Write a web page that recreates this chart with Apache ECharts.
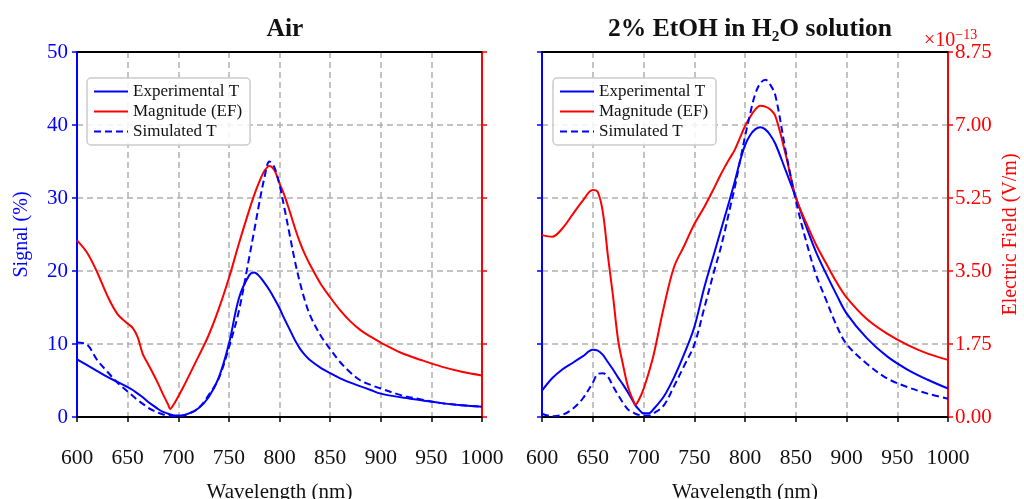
<!DOCTYPE html>
<html>
<head>
<meta charset="utf-8">
<script src="https://cdn.jsdelivr.net/npm/echarts@6/dist/echarts.min.js"></script>
<style>
html,body{margin:0;padding:0;background:#fff;}
#chart{width:1024px;height:499px;}
</style>
</head>
<body>
<div id="chart"></div>
<script>
// Wavelength grid (nm)
const wl = [600,610,620,630,640,650,655,660,665,670,675,680,685,690,692,695,700,705,710,720,730,740,750,760,770,775,780,785,790,795,800,805,810,815,820,825,830,840,850,860,870,880,890,900,920,940,960,980,1000];

// Air panel (Signal %)
const airExperimental = [7.9,7.1,6.3,5.5,4.8,4.1,3.7,3.2,2.7,2.1,1.6,1.1,0.7,0.45,0.35,0.25,0.2,0.25,0.45,1.2,2.7,5.4,10.0,16.3,19.4,19.8,19.3,18.4,17.4,16.2,14.9,13.4,12.0,10.6,9.4,8.5,7.8,6.8,6.0,5.3,4.7,4.2,3.7,3.2,2.7,2.3,1.9,1.6,1.4];
const airSimulated = [10.2,9.9,7.8,6.2,4.7,3.5,2.9,2.3,1.8,1.3,0.9,0.6,0.35,0.2,0.15,0.1,0.1,0.2,0.4,1.2,3.0,5.3,9.5,14.6,21.8,25.5,29.3,32.7,35.0,34.2,31.8,28.5,25.0,21.5,18.5,16.0,14.0,11.3,9.3,7.5,6.1,5.0,4.4,3.9,3.0,2.4,1.9,1.6,1.4];
const airField = [24.2,22.5,19.8,16.6,14.1,12.8,12.2,10.9,8.6,7.3,6.0,4.6,3.1,1.7,1.1,1.6,2.8,4.1,5.5,8.3,11.2,14.8,19.0,23.8,28.3,30.4,32.2,33.7,34.4,33.8,32.0,30.3,28.2,26.0,24.0,22.3,20.9,18.4,16.4,14.6,13.1,11.9,11.0,10.2,8.8,7.8,6.9,6.2,5.7];

// 2% EtOH panel (Signal %, Electric field x1e-13 V/m)
const etohExperimental = [3.6,5.3,6.5,7.4,8.3,9.2,9.1,8.5,7.5,6.5,5.4,4.4,3.3,2.1,1.6,1.1,0.5,0.5,1.1,2.8,5.4,8.6,12.3,17.8,22.6,25.0,27.4,29.8,32.3,35.0,37.2,38.6,39.4,39.7,39.4,38.6,37.4,33.8,30.1,26.2,22.6,19.6,16.8,14.2,10.8,8.3,6.5,5.1,3.9];
const etohSimulated = [0.45,0.1,0.3,1.1,2.5,4.7,5.9,6.0,5.5,4.2,3.0,1.9,1.0,0.6,0.45,0.3,0.2,0.2,0.5,1.6,4.2,7.0,9.9,15.0,20.2,22.6,25.4,28.5,31.5,35.0,38.4,41.5,44.2,45.7,46.2,45.5,44.0,36.5,29.7,24.2,19.5,16.0,12.6,10.0,7.3,5.3,4.1,3.2,2.5];
const etohField = [4.36,4.32,4.52,4.85,5.18,5.44,5.39,4.90,3.85,2.89,1.84,1.23,0.70,0.39,0.30,0.39,0.67,1.05,1.49,2.63,3.59,4.10,4.62,5.04,5.51,5.76,5.99,6.20,6.41,6.69,6.97,7.19,7.37,7.46,7.44,7.37,7.21,6.30,5.27,4.67,4.13,3.68,3.24,2.87,2.35,2.00,1.73,1.52,1.37];

const xTicks = [600,650,700,750,800,850,900,950,1000];
const panelTitles = ['Air', '2% EtOH in H\u2082O solution'];

const SERIF = "'Liberation Serif', 'DejaVu Serif', serif";
const BLUE = '#0000ff', RED = '#ff0000';
const pair = arr => wl.map((x, i) => [x, arr[i]]);

const gridTop = 52, gridH = 365;
const grids = [
  {left: 77, top: gridTop, width: 405, height: gridH, outerBoundsMode: 'none', containLabel: false},
  {left: 542, top: gridTop, width: 406, height: gridH, outerBoundsMode: 'none', containLabel: false}
];

const splitDashed = {show: true, lineStyle: {color: '#b0b0b0', width: 1.5, type: [6, 4]}};

function bottomX(gi) {
  return {
    type: 'value', gridIndex: gi, min: 600, max: 1000, interval: 50, position: 'bottom',
    axisLine: {show: true, onZero: false, lineStyle: {color: '#000', width: 2}},
    axisTick: {show: true, length: 5, lineStyle: {color: '#000', width: 1.5}},
    axisLabel: {color: '#111', fontFamily: SERIF, fontSize: 21.5, margin: 30,
      formatter: v => xTicks.includes(v) ? String(v) : ''},
    splitLine: splitDashed,
    name: 'Wavelength (nm)', nameLocation: 'middle', nameGap: 65,
    nameTextStyle: {color: '#111', fontFamily: SERIF, fontSize: 21}
  };
}
function topX(gi) {
  return {
    type: 'value', gridIndex: gi, min: 600, max: 1000, interval: 50, position: 'top',
    axisLine: {show: true, onZero: false, lineStyle: {color: '#000', width: 2}},
    axisTick: {show: false}, axisLabel: {show: false}, splitLine: {show: false}
  };
}

function legendAt(left) {
  return {
    left: left, top: 78, orient: 'vertical', itemGap: 3, itemWidth: 34, itemHeight: 12,
    padding: [5, 8, 5, 6], borderColor: '#cccccc', borderWidth: 1.5, borderRadius: 4,
    backgroundColor: 'rgba(255,255,255,0.85)',
    itemStyle: {opacity: 0},
    textStyle: {fontFamily: SERIF, fontSize: 17, color: '#111'},
    data: ['Experimental T', 'Magnitude (EF)', 'Simulated T']
  };
}

const lineSeries = (name, xi, yi, arr, color, dashed) => ({
  name: name, type: 'line', xAxisIndex: xi, yAxisIndex: yi, data: pair(arr),
  symbol: 'none', smooth: 0.35,
  lineStyle: {color: color, width: 2, type: dashed ? [7, 4] : 'solid'},
  itemStyle: {color: color}, z: 3
});

const option = {
  backgroundColor: '#fff',
  animation: false,
  title: [
    {text: panelTitles[0], left: 280, top: 11, textAlign: 'center',
     textStyle: {fontFamily: SERIF, fontWeight: 'bold', fontSize: 25.5, color: '#111'}},
    {text: panelTitles[1], left: 745, top: 11, textAlign: 'center',
     textStyle: {fontFamily: SERIF, fontWeight: 'bold', fontSize: 25.5, color: '#111'}},
    {text: '\u00d710{s|\u2212' + '13}', left: 919, top: 23,
     textStyle: {fontFamily: SERIF, fontWeight: 'normal', fontSize: 20, color: RED,
       rich: {s: {fontFamily: SERIF, fontSize: 14, color: RED, verticalAlign: 'top', padding: [0, 0, 12, 0]}}}}
  ],
  legend: [legendAt(87), legendAt(553)],
  grid: grids,
  xAxis: [bottomX(0), topX(0), bottomX(1), topX(1)],
  yAxis: [
    {type: 'value', gridIndex: 0, min: 0, max: 50, interval: 10, position: 'left',
     axisLine: {show: true, onZero: false, lineStyle: {color: BLUE, width: 2}},
     axisTick: {show: true, length: 5, lineStyle: {color: BLUE, width: 1.5}},
     axisLabel: {color: BLUE, fontFamily: SERIF, fontSize: 21, margin: 9},
     splitLine: splitDashed,
     name: 'Signal (%)', nameLocation: 'middle', nameGap: 45,
     nameTextStyle: {color: BLUE, fontFamily: SERIF, fontSize: 20}},
    {type: 'value', gridIndex: 0, min: 0, max: 50, interval: 10, position: 'right',
     axisLine: {show: true, onZero: false, lineStyle: {color: RED, width: 2}},
     axisTick: {show: true, length: 5, lineStyle: {color: RED, width: 1.5}},
     axisLabel: {show: false}, splitLine: {show: false}},
    {type: 'value', gridIndex: 1, min: 0, max: 50, interval: 10, position: 'left',
     axisLine: {show: true, onZero: false, lineStyle: {color: BLUE, width: 2}},
     axisTick: {show: true, length: 5, lineStyle: {color: BLUE, width: 1.5}},
     axisLabel: {show: false},
     splitLine: splitDashed},
    {type: 'value', gridIndex: 1, min: 0, max: 8.75, interval: 1.75, position: 'right',
     axisLine: {show: true, onZero: false, lineStyle: {color: RED, width: 2}},
     axisTick: {show: true, length: 5, lineStyle: {color: RED, width: 1.5}},
     axisLabel: {color: RED, fontFamily: SERIF, fontSize: 21, margin: 7, formatter: v => v.toFixed(2)},
     splitLine: {show: false},
     name: 'Electric Field (V/m)', nameLocation: 'middle', nameGap: 53,
     nameTextStyle: {color: RED, fontFamily: SERIF, fontSize: 20}}
  ],
  series: [
    lineSeries('Experimental T', 0, 0, airExperimental, BLUE, false),
    lineSeries('Magnitude (EF)', 0, 1, airField, RED, false),
    lineSeries('Simulated T', 0, 0, airSimulated, BLUE, true),
    lineSeries('Experimental T', 2, 2, etohExperimental, BLUE, false),
    lineSeries('Magnitude (EF)', 2, 3, etohField, RED, false),
    lineSeries('Simulated T', 2, 2, etohSimulated, BLUE, true)
  ]
};

const chart = echarts.init(document.getElementById('chart'), null, {renderer: 'canvas'});
chart.setOption(option);
</script>
</body>
</html>
